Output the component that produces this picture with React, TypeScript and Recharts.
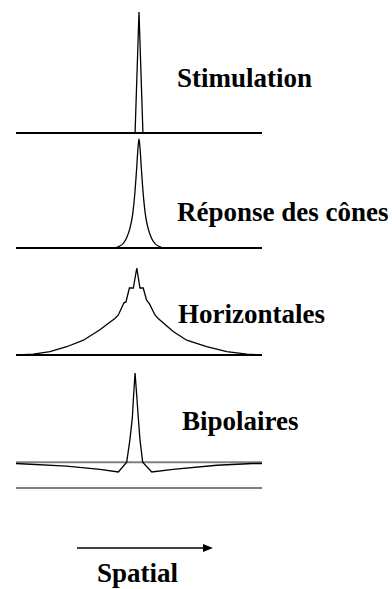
import { LineChart, Line, XAxis, YAxis, ReferenceLine } from "recharts";

// x runs 0..100 across the retina strip, responses are normalised to the peak
const stimX = [0, 48.4, 50, 51.6, 100];
const stimY = [0, 0, 1, 0, 0];

const coneX = [0, 39.8, 41.9, 43.5, 44.9, 46.3, 47.3, 48.3, 49.1, 49.6, 50, 50.4, 50.9, 51.7, 52.7, 53.7, 55.1, 56.5, 58.1, 60.2, 100];
const coneY = [0, 0, 0.015, 0.04, 0.09, 0.18, 0.29, 0.5, 0.75, 0.92, 1, 0.92, 0.75, 0.5, 0.29, 0.18, 0.09, 0.04, 0.015, 0, 0];

const horizX = [0.9, 7.0, 13.8, 20.6, 27.4, 34.1, 40.2, 41.6, 43.9, 44.7, 46.1, 47.7, 49.1, 50.4, 51.7, 53.1, 54.2, 56.5, 57.8, 63.9, 69.4, 77.5, 85.7, 93.8, 99.2];
const horizY = [0, 0.01, 0.04, 0.095, 0.17, 0.29, 0.42, 0.46, 0.6, 0.61, 0.77, 0.77, 1, 0.77, 0.77, 0.63, 0.59, 0.46, 0.42, 0.27, 0.17, 0.095, 0.04, 0.01, 0];

const bipX = [0, 20.6, 34.1, 41.6, 45.0, 46.3, 47.3, 47.7, 48.4, 49.2, 49.7, 50.4, 51.5, 55.2, 63.8, 81.6, 96.3, 100];
const bipY = [-0.015, -0.045, -0.08, -0.11, 0, 0.25, 0.5, 0.7, 1, 0.7, 0.5, 0.25, 0, -0.11, -0.08, -0.035, -0.015, -0.015];

const labels = ["Stimulation", "Réponse des cônes", "Horizontales", "Bipolaires"];
const axisLabel = "Spatial";

const zip = (xs: number[], ys: number[]) => xs.map((x, i) => ({ x, y: ys[i] }));

type PanelProps = {
  data: { x: number; y: number }[];
  top: number;
  marginTop: number;
  plotHeight: number;
  yMin: number;
  curve: "linear" | "monotone";
  axisColor: string;
  zeroLine?: boolean;
};

function Panel({ data, top, marginTop, plotHeight, yMin, curve, axisColor, zeroLine }: PanelProps) {
  return (
    <div style={{ position: "absolute", left: 0, top }}>
      <LineChart
        width={392}
        height={marginTop + plotHeight + 2}
        data={data}
        margin={{ top: marginTop, right: 130, left: 16, bottom: 0 }}
      >
        <XAxis
          type="number"
          dataKey="x"
          domain={[0, 100]}
          tick={false}
          tickLine={false}
          height={2}
          axisLine={{ stroke: axisColor, strokeWidth: 2 }}
        />
        <YAxis hide domain={[yMin, 1]} />
        {zeroLine && <ReferenceLine y={0} stroke="#808080" strokeWidth={2} />}
        <Line
          type={curve}
          dataKey="y"
          stroke="#000"
          strokeWidth={1.3}
          dot={false}
          isAnimationActive={false}
        />
      </LineChart>
    </div>
  );
}

const SERIF = "Liberation Serif, Times New Roman, serif";

function Caption({ x, y, children }: { x: number; y: number; children: string }) {
  return (
    <text x={x} y={y} fontFamily={SERIF} fontWeight={700} fontSize={27} fill="#000">
      {children}
    </text>
  );
}

export default function App() {
  return (
    <div style={{ position: "fixed", left: 0, top: 0, width: 392, height: 589, background: "#fff" }}>
      <Panel data={zip(stimX, stimY)} top={0} marginTop={12} plotHeight={121} yMin={0} curve="linear" axisColor="#000" />
      <Panel data={zip(coneX, coneY)} top={135} marginTop={4} plotHeight={109} yMin={0} curve="monotone" axisColor="#000" />
      <Panel data={zip(horizX, horizY)} top={250} marginTop={18} plotHeight={87} yMin={0} curve="linear" axisColor="#000" />
      <Panel data={zip(bipX, bipY)} top={360} marginTop={13} plotHeight={115} yMin={-0.29} curve="linear" axisColor="#808080" zeroLine />
      <svg width={392} height={589} style={{ position: "absolute", left: 0, top: 0, pointerEvents: "none" }}>
        <Caption x={177} y={87}>{labels[0]}</Caption>
        <Caption x={177} y={221}>{labels[1]}</Caption>
        <Caption x={178} y={323}>{labels[2]}</Caption>
        <Caption x={182} y={430}>{labels[3]}</Caption>
        <line x1={77} y1={548} x2={204} y2={548} stroke="#000" strokeWidth={1.5} />
        <polygon points="203,544 213,548 203,552" fill="#000" />
        <Caption x={97} y={582}>{axisLabel}</Caption>
      </svg>
    </div>
  );
}
